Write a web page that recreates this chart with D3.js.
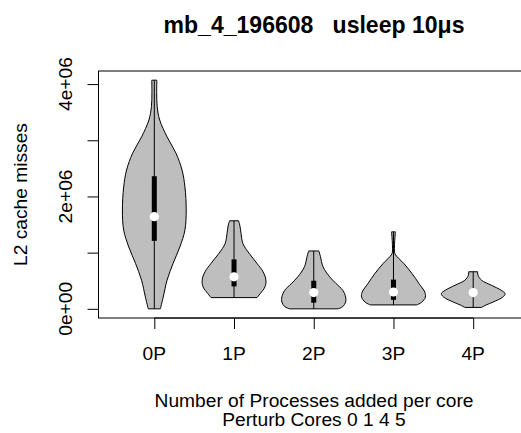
<!DOCTYPE html>
<html><head><meta charset="utf-8">
<script src="https://cdn.jsdelivr.net/npm/d3@7"></script>
<style>body{margin:0;background:#fff}svg{display:block}text{font-family:"Liberation Sans",Arial,Helvetica,sans-serif;fill:#000}</style>
</head><body>
<script>
// ---- data (values in millions of L2 cache misses) ----
const categories = ["0P","1P","2P","3P","4P"];
// density profiles: [value (1e6), relative half-width 0..1]
const profile0P = [[4.07,0.08],[3.85,0.075],[3.60,0.09],[3.36,0.17],[3.06,0.40],[2.77,0.68],[2.47,0.87],[2.17,0.96],[1.76,1.0],[1.40,0.96],[1.10,0.80],[0.81,0.59],[0.51,0.40],[0.21,0.28],[0.0,0.19]];
const profile1P = [[1.567,0.14],[1.49,0.18],[1.34,0.22],[1.16,0.28],[0.99,0.47],[0.81,0.72],[0.66,0.91],[0.51,1.0],[0.39,0.97],[0.27,0.82],[0.20,0.72]];
const profile2P = [[1.03,0.16],[0.93,0.21],[0.75,0.29],[0.57,0.50],[0.45,0.70],[0.33,0.91],[0.21,1.0],[0.12,1.0],[0.04,0.91],[0.0,0.76]];
const profile3P = [[1.37,0.06],[1.22,0.04],[1.07,0.03],[0.99,0.04],[0.93,0.11],[0.81,0.32],[0.63,0.58],[0.45,0.80],[0.30,0.98],[0.21,1.0],[0.12,0.89],[0.07,0.73]];
const profile4P = [[0.66,0.14],[0.60,0.15],[0.51,0.26],[0.42,0.57],[0.33,0.88],[0.27,1.0],[0.21,0.93],[0.12,0.62],[0.07,0.41],[0.025,0.26]];
const profiles = [profile0P, profile1P, profile2P, profile3P, profile4P];
const q1 = [1.21, 0.40, 0.11, 0.16, 0.25];
const q3 = [2.36, 0.88, 0.50, 0.52, 0.33];
const medians = [1.64, 0.57, 0.29, 0.30, 0.29];
const whiskerLo = [0.0, 0.20, 0.0, 0.07, 0.025];
const whiskerHi = [4.07, 1.567, 1.03, 1.37, 0.66];
const yTicks = [0, 1, 2, 3, 4];
const yTickLabels = ["0e+00", "", "2e+06", "", "4e+06"];
const title = "mb_4_196608   usleep 10\u03bcs";
const xLabel1 = "Number of Processes added per core";
const xLabel2 = "Perturb Cores 0 1 4 5";
const yLabel = "L2 cache misses";

// ---- layout ----
const W = 521, H = 433;
const FS = 19.2;
const svg = d3.select("body").append("svg").attr("width", W).attr("height", H);
const x = d3.scaleLinear().domain([0.3, 5.7]).range([98.5, 529]);
const y = d3.scaleLinear().domain([-0.163, 4.233]).range([318, 71]);
const halfMax = 0.4;

// violins
profiles.forEach((p, i) => {
  const c = i + 1;
  const area = d3.area()
    .curve(d3.curveCatmullRom)
    .y(d => y(d[0]))
    .x0(d => x(c - d[1] * halfMax))
    .x1(d => x(c + d[1] * halfMax));
  svg.append("path").attr("d", area(p))
    .attr("fill", "#bebebe").attr("stroke", "#000").attr("stroke-width", 1);
  svg.append("line").attr("x1", x(c)).attr("x2", x(c))
    .attr("y1", y(whiskerLo[i])).attr("y2", y(whiskerHi[i]))
    .attr("stroke", "#000").attr("stroke-width", 1);
  svg.append("rect").attr("x", x(c) - 2.5).attr("width", 5)
    .attr("y", y(q3[i])).attr("height", y(q1[i]) - y(q3[i])).attr("fill", "#000");
  svg.append("circle").attr("cx", x(c)).attr("cy", y(medians[i])).attr("r", 4.6).attr("fill", "#fff");
});

// box
svg.append("rect").attr("x", 98.5).attr("y", 71).attr("width", 529 - 98.5).attr("height", 318 - 71)
  .attr("fill", "none").attr("stroke", "#000").attr("stroke-width", 1);

// y axis
const yAxisG = svg.append("g").attr("transform", "translate(98.5,0)")
  .call(d3.axisLeft(y).tickValues(yTicks).tickSize(11).tickFormat(""));
yAxisG.select(".domain").attr("d", `M0,${y(0)}V${y(4)}`);
yAxisG.selectAll("line").attr("stroke", "#000");
yTicks.forEach((t, i) => {
  if (!yTickLabels[i]) return;
  svg.append("text").attr("transform", `translate(72,${y(t)}) rotate(-90)`)
    .attr("text-anchor", "middle").attr("font-size", FS).text(yTickLabels[i]);
});

// x axis
const xAxisG = svg.append("g").attr("transform", "translate(0,318)")
  .call(d3.axisBottom(x).tickValues([1,2,3,4,5]).tickSize(11).tickFormat(""));
xAxisG.select(".domain").attr("d", `M${x(1)},0H${x(5)}`);
categories.forEach((c, i) => {
  svg.append("text").attr("x", x(i + 1)).attr("y", 360).attr("text-anchor", "middle")
    .attr("font-size", FS).text(c);
});

// labels
svg.append("text").attr("x", 314).attr("y", 33).attr("text-anchor", "middle")
  .attr("font-size", FS * 1.2).attr("font-weight", "bold").style("white-space", "pre").text(title);
svg.append("text").attr("x", 314).attr("y", 406.5).attr("text-anchor", "middle").attr("font-size", FS).text(xLabel1);
svg.append("text").attr("x", 314).attr("y", 426).attr("text-anchor", "middle").attr("font-size", FS).text(xLabel2);
svg.append("text").attr("transform", `translate(27,${(71+318)/2}) rotate(-90)`)
  .attr("text-anchor", "middle").attr("font-size", FS).text(yLabel);
</script>
</body></html>
